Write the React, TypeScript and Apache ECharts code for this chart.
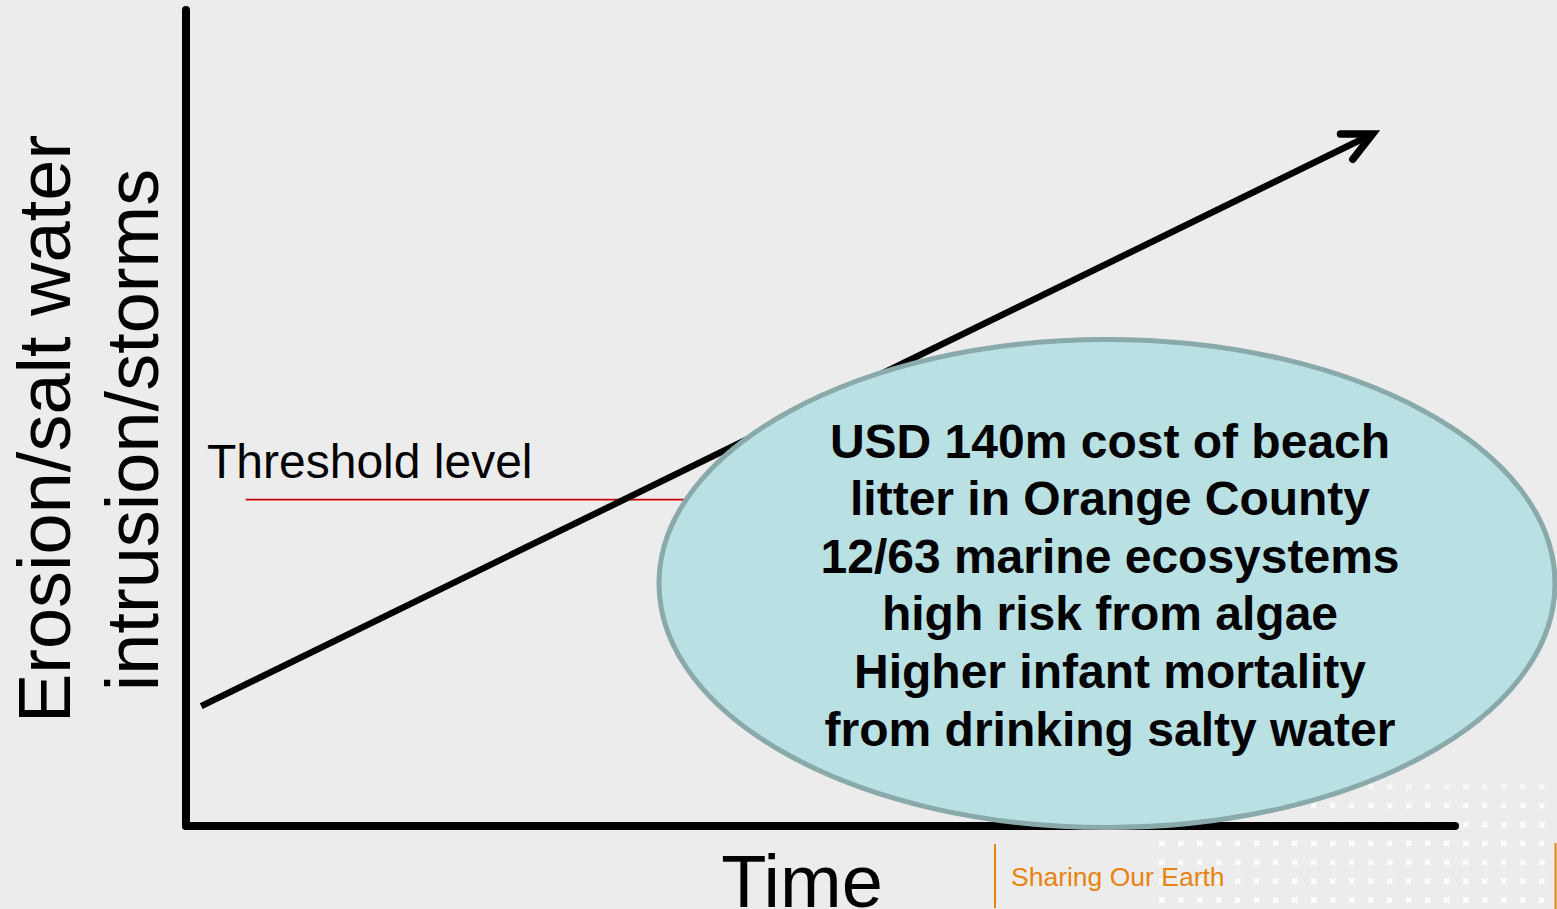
import React, { useEffect, useRef } from "react";
import * as echarts from "echarts";

// ---- data ----
const timeRange = [0, 100];
const levelRange = [0, 100];
const trendTime = [1.2, 93.5];
const trendLevel = [14.7, 84.8];
const thresholdTime = [4.7, 45];
const thresholdLevel = [40, 40];

const yTitleLines = ["Erosion/salt water", "intrusion/storms"];
const xTitle = "Time";
const thresholdLabel = "Threshold level";
const calloutLines = [
  "USD 140m cost of beach",
  "litter in Orange County",
  "12/63 marine ecosystems",
  "high risk from algae",
  "Higher infant mortality",
  "from drinking salty water",
];
const footerText = "Sharing Our Earth";

const FONT = "'Liberation Sans', Arial, Helvetica, sans-serif";
const BG = "#ececec";
const ORANGE = "#e8830f";

function buildDots() {
  const children: any[] = [];
  const cols = 21;
  const rows = 7;
  for (let r = 0; r < rows; r++) {
    const op = r === 0 ? 0.6 : r === 1 ? 0.8 : 0.95;
    for (let c = 0; c < cols; c++) {
      const x = 1161.7 + c * 19;
      const y = 786.7 + r * 18.9;
      children.push({
        type: "line",
        shape: { x1: x - 2.5, y1: y - 2.5, x2: x + 2.5, y2: y + 2.5 },
        style: { stroke: "#ffffff", lineWidth: 2.2, opacity: op },
        silent: true,
      });
      children.push({
        type: "line",
        shape: { x1: x - 2.5, y1: y + 2.5, x2: x + 2.5, y2: y - 2.5 },
        style: { stroke: "#ffffff", lineWidth: 2.2, opacity: op },
        silent: true,
      });
    }
  }
  return children;
}

export default function App() {
  const ref = useRef<HTMLDivElement>(null);

  useEffect(() => {
    document.body.style.margin = "0";
    document.body.style.overflow = "hidden";
    if (!ref.current) return;
    const chart = echarts.init(ref.current, undefined, { renderer: "svg" });

    const option: any = {
      animation: false,
      backgroundColor: BG,
      grid: { left: 186, right: 102, top: 10, bottom: 83, containLabel: false },
      xAxis: {
        type: "value",
        min: timeRange[0],
        max: timeRange[1],
        z: 5,
        axisLine: { show: true, lineStyle: { color: "#000", width: 8 } },
        axisTick: { show: false },
        axisLabel: { show: false },
        splitLine: { show: false },
      },
      yAxis: {
        type: "value",
        min: levelRange[0],
        max: levelRange[1],
        z: 5,
        axisLine: { show: true, lineStyle: { color: "#000", width: 8 } },
        axisTick: { show: false },
        axisLabel: { show: false },
        splitLine: { show: false },
      },
      series: [
        {
          name: thresholdLabel,
          type: "line",
          data: thresholdTime.map((t, i) => [t, thresholdLevel[i]]),
          symbol: "none",
          lineStyle: { color: "#c80000", width: 1.6 },
          z: 3,
          silent: true,
        },
        {
          name: "Trend",
          type: "custom",
          z: 4,
          silent: true,
          encode: { x: [0, 2], y: [1, 3] },
          data: [[trendTime[0], trendLevel[0], trendTime[1], trendLevel[1]]],
          renderItem: (params: any, api: any) => {
            const p0 = api.coord([api.value(0), api.value(1)]);
            const p1 = api.coord([api.value(2), api.value(3)]);
            const ang = Math.atan2(p0[1] - p1[1], p0[0] - p1[0]);
            const L = 32;
            const spread = (26 * Math.PI) / 180;
            const a1 = [p1[0] + L * Math.cos(ang + spread), p1[1] + L * Math.sin(ang + spread)];
            const a2 = [p1[0] + L * Math.cos(ang - spread), p1[1] + L * Math.sin(ang - spread)];
            const endX = p1[0] + 4 * Math.cos(ang);
            const endY = p1[1] + 4 * Math.sin(ang);
            return {
              type: "group",
              children: [
                {
                  type: "line",
                  shape: { x1: p0[0], y1: p0[1], x2: endX, y2: endY },
                  style: { stroke: "#000", lineWidth: 6.5, lineCap: "butt" },
                },
                {
                  type: "polyline",
                  shape: { points: [a1, [p1[0], p1[1]], a2] },
                  style: { stroke: "#000", fill: null, lineWidth: 7.5, lineCap: "round", lineJoin: "miter" },
                },
              ],
            };
          },
        },
      ],
      graphic: [
        { type: "group", z: 0, silent: true, children: buildDots() },
        {
          type: "ellipse",
          z: 100,
          silent: true,
          shape: { cx: 1107, cy: 583.5, rx: 448, ry: 244 },
          style: { fill: "#b9e0e3", stroke: "#8aa9aa", lineWidth: 5 },
        },
        {
          type: "text",
          z: 101,
          silent: true,
          x: 1110,
          y: 585,
          style: {
            text: calloutLines.join("\n"),
            font: `bold 48px ${FONT}`,
            fill: "#000",
            textAlign: "center",
            textVerticalAlign: "middle",
            lineHeight: 57.6,
          },
        },
        {
          type: "text",
          z: 50,
          silent: true,
          x: 44,
          y: 429,
          rotation: Math.PI / 2,
          style: {
            text: yTitleLines[0],
            font: `74px ${FONT}`,
            fill: "#000",
            textAlign: "center",
            textVerticalAlign: "middle",
          },
        },
        {
          type: "text",
          z: 50,
          silent: true,
          x: 132,
          y: 430,
          rotation: Math.PI / 2,
          style: {
            text: yTitleLines[1],
            font: `74px ${FONT}`,
            fill: "#000",
            textAlign: "center",
            textVerticalAlign: "middle",
          },
        },
        {
          type: "text",
          z: 50,
          silent: true,
          x: 802,
          y: 881,
          style: {
            text: xTitle,
            font: `74px ${FONT}`,
            fill: "#000",
            textAlign: "center",
            textVerticalAlign: "middle",
          },
        },
        {
          type: "text",
          z: 50,
          silent: true,
          x: 207,
          y: 461,
          style: {
            text: thresholdLabel,
            font: `48px ${FONT}`,
            fill: "#000",
            textAlign: "left",
            textVerticalAlign: "middle",
          },
        },
        {
          type: "line",
          z: 50,
          silent: true,
          shape: { x1: 995, y1: 844, x2: 995, y2: 908 },
          style: { stroke: ORANGE, lineWidth: 2 },
        },
        {
          type: "line",
          z: 50,
          silent: true,
          shape: { x1: 1555.5, y1: 843, x2: 1555.5, y2: 909 },
          style: { stroke: ORANGE, lineWidth: 2 },
        },
        {
          type: "text",
          z: 50,
          silent: true,
          x: 1011,
          y: 877,
          style: {
            text: footerText,
            font: `26.5px ${FONT}`,
            fill: ORANGE,
            textAlign: "left",
            textVerticalAlign: "middle",
          },
        },
      ],
    };

    chart.setOption(option);
    return () => {
      chart.dispose();
    };
  }, []);

  return <div ref={ref} style={{ width: 1557, height: 909 }} />;
}
